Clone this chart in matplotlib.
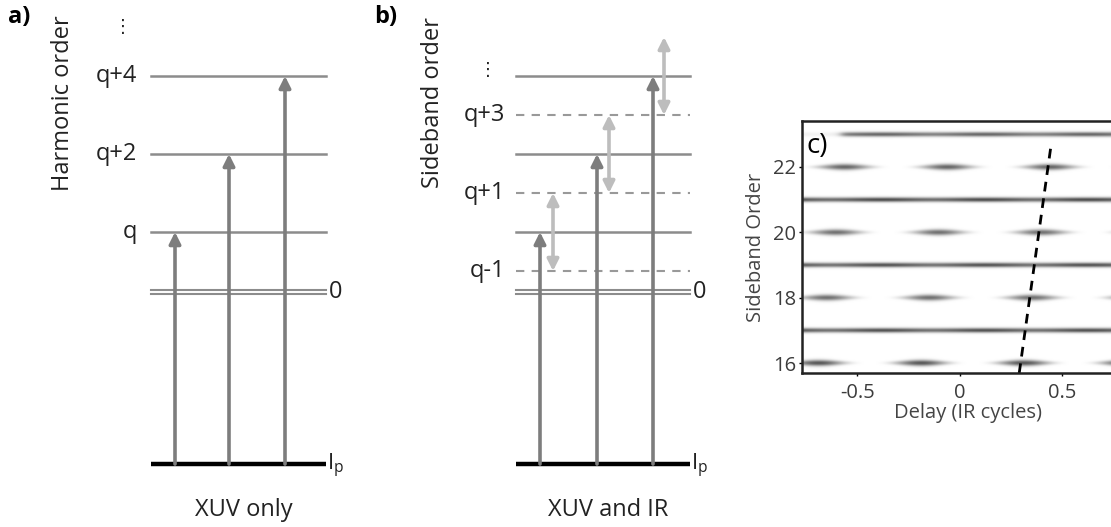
import numpy as np
import matplotlib
matplotlib.use("Agg")
import matplotlib.pyplot as plt

plt.rcParams['font.family'] = ['Open Sans', 'DejaVu Sans']
plt.rcParams['mathtext.fontset'] = 'custom'
plt.rcParams['mathtext.rm'] = 'Open Sans'

# level scheme, in units of the IR photon energy relative to harmonic q
harmonic_offsets = [0, 2, 4]
harmonic_labels = ['q', 'q+2', 'q+4']
sideband_offsets = [-1, 1, 3]
sideband_labels = ['q-1', 'q+1', 'q+3']
threshold = -1.54          # continuum edge "0"
ground = -5.95             # ionisation potential Ip
ir_steps = [(-1, 1), (1, 3), (3, 5)]

# RABBITT spectrogram
harmonic_orders = [17, 19, 21, 23]
harmonic_strength = [0.62, 0.62, 0.64, 0.55]
sideband_orders = [16, 18, 20, 22]
sideband_strength = [0.66, 0.56, 0.56, 0.6]
sideband_peak_delay = [0.31, 0.35, 0.395, 0.437]
slope_line_t = [0.29, 0.445]
slope_line_n = [15.7, 22.65]

fig = plt.figure(figsize=(11.11, 5.27), dpi=100)

# overlay axes for the two level diagrams: x in pixels, y in photon orders
ax = fig.add_axes([0, 0, 1, 1])
ax.set_xlim(0, 1111)
ax.set_ylim((232 - 527) / 39, 232 / 39)
ax.axis('off')

LEVEL = '#8c8c8c'
ARROW = '#7d7d7d'
IRCOL = '#bdbdbd'
TXT = '#222222'
FS = 17


def up_arrow(x, y0, y1, color, style='-|>'):
    ax.annotate('', xy=(x, y1), xytext=(x, y0),
                arrowprops=dict(arrowstyle=style, color=color, lw=2.6,
                                shrinkA=0, shrinkB=0, mutation_scale=17))


def diagram(x0, x1, arrow_x, tag, tag_x, ylab, ylab_x, dots_x, dots_y, title):
    ax.plot([x0, x1], [ground, ground], color='black', lw=3.2, solid_capstyle='butt')
    for dy in (0.05, -0.05):
        ax.plot([x0, x1], [threshold + dy] * 2, color=LEVEL, lw=1.5)
    for h in harmonic_offsets:
        ax.plot([x0, x1], [h, h], color=LEVEL, lw=1.8)
    for x, h in zip(arrow_x, harmonic_offsets):
        up_arrow(x, ground, h, ARROW)
    ax.text(x1 + 3, threshold, '0', fontsize=FS, va='center', ha='left', color=TXT)
    ax.text(x1 + 1, ground - 0.05, r'$\mathregular{I_p}$', fontsize=FS - 1, va='center',
            ha='left', color=TXT)
    ax.text(tag_x, (232 - 17) / 39, tag, fontsize=FS, fontweight='bold', va='center', ha='left')
    ax.text(ylab_x, (232 - 103) / 39, ylab, fontsize=FS, rotation=90, va='center', ha='center',
            color=TXT)
    ax.text(dots_x, dots_y, '\u22ee', fontsize=13, va='center', ha='center',
            family=['DejaVu Sans'], color=TXT)
    ax.text((x0 + x1) / 2 + 5, (232 - 510) / 39, title, fontsize=FS, va='center', ha='center',
            color=TXT)


# a) XUV only
diagram(151, 326, [175, 229, 285], 'a)', 8, 'Harmonic order', 63, 123,
        (232 - 27) / 39, 'XUV only')
for h, lab in zip(harmonic_offsets, harmonic_labels):
    ax.text(137, h, lab, fontsize=FS, va='center', ha='right', color=TXT)

# b) XUV and IR
diagram(516, 690, [540, 597, 653], 'b)', 374, 'Sideband order', 433, 488,
        (232 - 70) / 39, 'XUV and IR')
for s, lab in zip(sideband_offsets, sideband_labels):
    ax.plot([516, 690], [s, s], color='#999999', lw=1.5, dashes=(4, 3.5))
    ax.text(505, s, lab, fontsize=FS, va='center', ha='right', color=TXT)
for x, (lo, hi) in zip([553, 609, 664], ir_steps):
    up_arrow(x, lo, hi, IRCOL, style='<|-|>')

# c) spectrogram
axc = fig.add_axes([802 / 1111, (527 - 373) / 527, 332 / 1111, 252 / 527])
t = np.linspace(-0.77, 0.85, 800)
n = np.linspace(15.7, 23.4, 500)
T, N = np.meshgrid(t, n)
img = np.zeros_like(T)
for h, a in zip(harmonic_orders, harmonic_strength):
    mod = 1 - 0.1 * np.cos(4 * np.pi * (T - 0.37))
    band = a * mod * np.exp(-(N - h) ** 2 / (2 * 0.05 ** 2))
    if h == 23:
        band *= 0.1 + 0.9 / (1 + np.exp(-(T + 0.58) / 0.012))
    img += band
for sb, a, t0 in zip(sideband_orders, sideband_strength, sideband_peak_delay):
    osc = ((1 + np.cos(4 * np.pi * (T - t0))) / 2) ** 1.6
    img += a * osc * np.exp(-(N - sb) ** 2 / (2 * (0.035 + 0.03 * osc) ** 2))
axc.imshow(img, extent=[t[0], t[-1], n[0], n[-1]], origin='lower', cmap='gray_r',
           vmin=0, vmax=1, aspect='auto', interpolation='bilinear')
axc.plot(slope_line_t, slope_line_n, color='black', lw=2, dashes=(3.5, 2.5))
axc.set_xlim(-0.77, 0.85)
axc.set_ylim(15.7, 23.4)
axc.set_xticks([-0.5, 0, 0.5])
axc.set_xticklabels(['-0.5', '0', '0.5'])
axc.set_yticks([16, 18, 20, 22])
axc.tick_params(length=2, width=1, labelsize=14.5, labelcolor='#3c3c3c', pad=2)
axc.tick_params(axis='x', pad=5)
for sp in axc.spines.values():
    sp.set_linewidth(1.8)
    sp.set_color('#222222')
axc.set_xlabel('Delay (IR cycles)', fontsize=14.5, color='#444444', labelpad=0)
axc.set_ylabel('Sideband Order', fontsize=14.5, color='#444444', labelpad=5)
axc.text(0.015, 0.9, 'c)', transform=axc.transAxes, fontsize=20, va='center', ha='left')

fig.savefig('out.png', dpi=100)
